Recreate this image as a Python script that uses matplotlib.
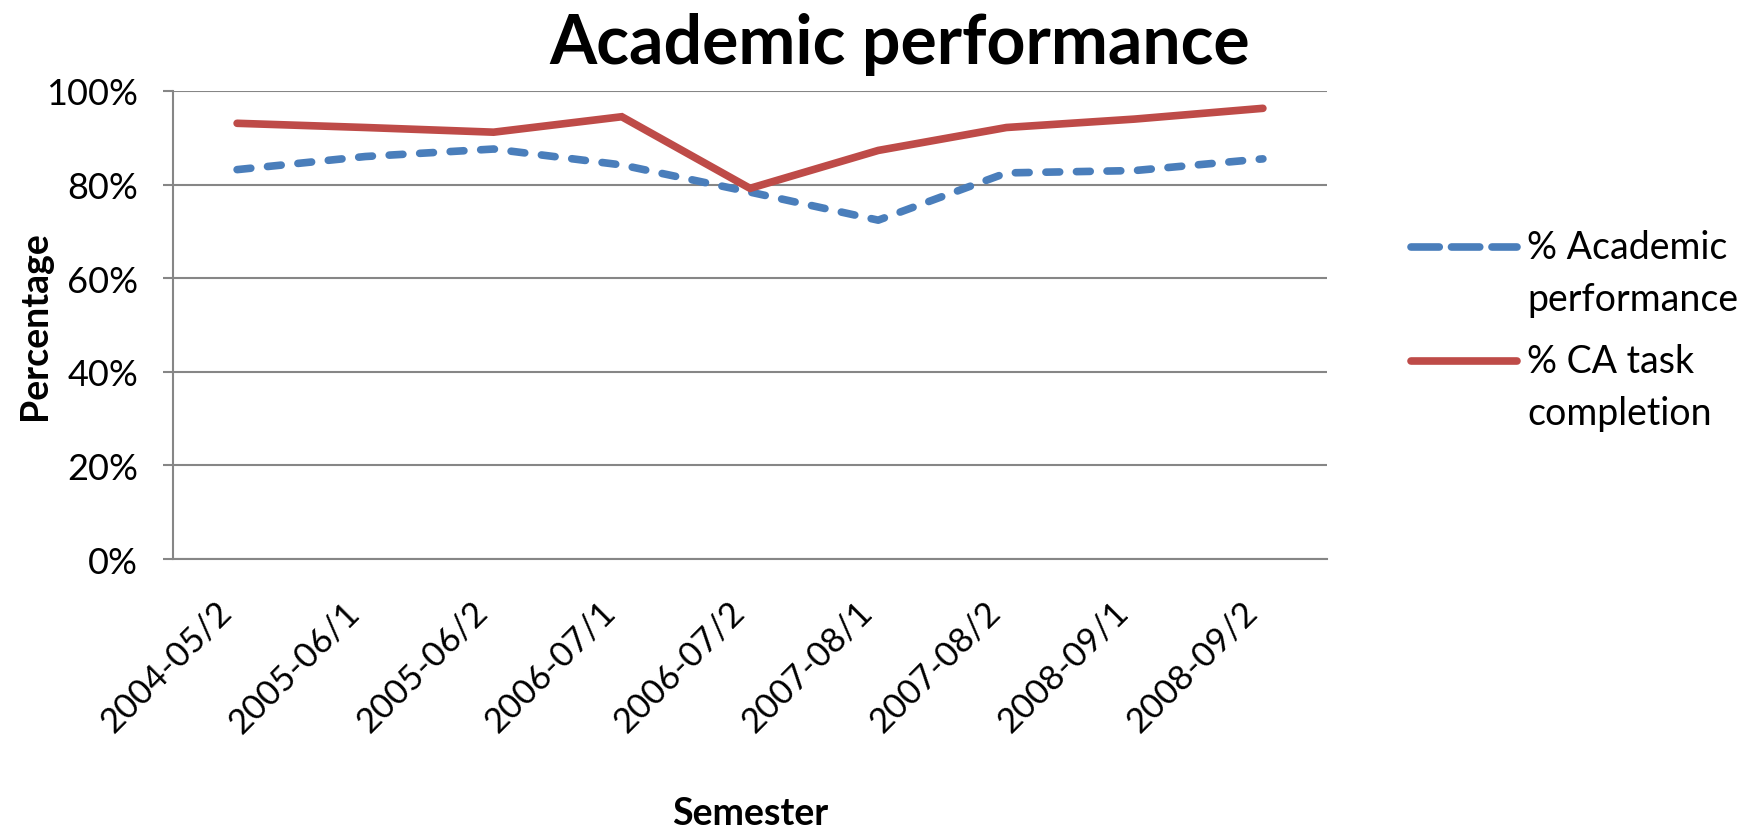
import matplotlib
matplotlib.use("Agg")
import matplotlib.pyplot as plt
from matplotlib.lines import Line2D
from matplotlib.ticker import FuncFormatter, FixedLocator

semesters = ["2004-05/2", "2005-06/1", "2005-06/2", "2006-07/1", "2006-07/2",
             "2007-08/1", "2007-08/2", "2008-09/1", "2008-09/2"]
academic = [83.2, 86.0, 87.6, 84.2, 78.4, 72.4, 82.5, 83.0, 85.5]
ca_task = [93.1, 92.2, 91.2, 94.5, 79.2, 87.3, 92.2, 94.0, 96.3]
series_labels = ["% Academic\nperformance", "% CA task\ncompletion"]
yticks = [0, 20, 40, 60, 80, 100]

BLUE = "#4a7ebb"
RED = "#be4b48"
GRID = "#868686"
FONT = "Lato"

plt.rcParams['font.family'] = [FONT, 'DejaVu Sans']

W, H = 1753, 828
fig = plt.figure(figsize=(W / 100, H / 100), dpi=100)
ax = fig.add_axes([173 / W, 1 - 560 / H, (1327 - 173) / W, (560 - 92) / H])

x = list(range(len(semesters)))
l1, = ax.plot(x, academic, color=BLUE, lw=5.5, linestyle=(0, (1.8, 2.2)),
              dash_capstyle='round', solid_capstyle='round', zorder=3)
l2, = ax.plot(x, ca_task, color=RED, lw=5.5, solid_capstyle='round',
              solid_joinstyle='miter', zorder=4)

ax.set_xlim(-0.5, len(semesters) - 0.5)
ax.set_ylim(0, 100)
ax.yaxis.set_major_locator(FixedLocator(yticks))
ax.yaxis.set_major_formatter(FuncFormatter(lambda v, p: f"{v:.0f}%"))
ax.set_xticks(x)
ax.set_xticklabels(semesters, rotation=45, ha='right', va='top',
                   fontsize=25, color="#000000")
ax.grid(axis='y', color=GRID, lw=1.5, zorder=0)
ax.set_axisbelow(True)

for s in ['top', 'right']:
    ax.spines[s].set_visible(False)
ax.spines['left'].set_color(GRID)
ax.spines['left'].set_linewidth(1.5)
ax.spines['bottom'].set_color(GRID)
ax.spines['bottom'].set_linewidth(1.5)

ax.tick_params(axis='y', length=7, width=1.5, color=GRID, pad=18,
               labelsize=26, labelcolor="#000000")
ax.tick_params(axis='x', length=0, pad=26)

ax.set_xlabel("Semester", fontsize=27, fontweight='bold')
ax.xaxis.set_label_coords(0.5, -(814 - 560) / (560 - 92))
ax.xaxis.label.set_va('center')
ax.set_ylabel("Percentage", fontsize=27, fontweight='bold')
ax.yaxis.set_label_coords((35 - 173) / (1327 - 173), 0.5)
ax.yaxis.label.set_va('center')

fig.text(900 / W, 1 - 44 / H, "Academic performance", fontsize=49,
         fontweight='bold', ha='center', va='center')

# legend (drawn manually to keep the handle aligned with the first text line)
leg_items = [(l1, 248), (l2, 362)]
for (line, ypix), lab in zip(leg_items, series_labels):
    fig.add_artist(Line2D([1411 / W, 1517 / W], [1 - ypix / H, 1 - ypix / H],
                          transform=fig.transFigure, color=line.get_color(),
                          lw=5.5, linestyle=line.get_linestyle(),
                          dash_capstyle='round', solid_capstyle='round'))
    fig.text(1527 / W, 1 - (ypix - 18) / H, lab, fontsize=27, ha='left',
             va='top', linespacing=1.55)

fig.savefig("out.png", dpi=100)
